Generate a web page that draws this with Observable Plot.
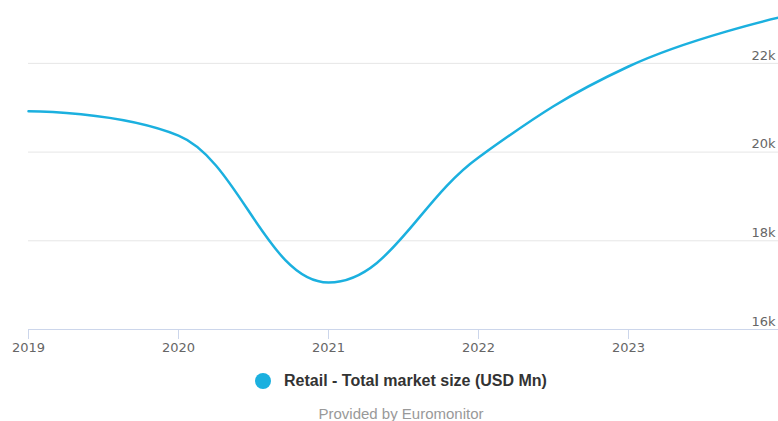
<!DOCTYPE html>
<html>
<head>
<meta charset="utf-8">
<script src="https://cdn.jsdelivr.net/npm/d3@7"></script>
<script src="https://cdn.jsdelivr.net/npm/@observablehq/plot@0.6"></script>
<style>
  html, body { margin: 0; padding: 0; background: #fff; }
  #chart { width: 778px; height: 358px; }
  .legend { height: 46px; padding-left: 24px; display: flex; align-items: center; justify-content: center; font-family: "Liberation Sans", Arial, sans-serif; font-weight: bold; font-size: 16px; color: #333; }
  .legend .dot { width: 16px; height: 16px; border-radius: 50%; background: #1bb0df; margin-right: 13px; }
  .caption { padding-left: 24px; text-align: center; font-family: "Liberation Sans", Arial, sans-serif; font-size: 15px; line-height: 15px; color: #999; margin-top: 2px; }
</style>
</head>
<body>
<div id="chart"></div>
<script>
const years = [2019, 2020, 2021, 2022, 2023, 2024];
const values = [20920, 20370, 17060, 19880, 21930, 23030];
const yTicks = [16000, 18000, 20000, 22000];
const xTicks = [2019, 2020, 2021, 2022, 2023];
const seriesName = "Retail - Total market size (USD Mn)";
const lineColor = "#1bb0df";

const data = years.map((year, i) => ({year, value: values[i]}));

// Highcharts-style spline curve (smoothing 1.5), as a d3 curve factory
function splineCurve(context) {
  let pts = [];
  return {
    areaStart() {}, areaEnd() {},
    lineStart() { pts = []; },
    point(x, y) { pts.push([+x, +y]); },
    lineEnd() {
      const n = pts.length;
      if (!n) return;
      const sm = 1.5, den = sm + 1;
      const rc = new Array(n).fill(null);
      const lc = new Array(n).fill(null);
      for (let i = 1; i < n - 1; i++) {
        const [px, py] = pts[i], [lx, ly] = pts[i - 1], [nx, ny] = pts[i + 1];
        let lcx = (sm * px + lx) / den, lcy = (sm * py + ly) / den;
        let rcx = (sm * px + nx) / den, rcy = (sm * py + ny) / den;
        let corr = 0;
        if (rcx !== lcx) corr = ((rcy - lcy) * (rcx - px)) / (rcx - lcx) + py - rcy;
        lcy += corr; rcy += corr;
        if (lcy > ly && lcy > py) { lcy = Math.max(ly, py); rcy = 2 * py - lcy; }
        else if (lcy < ly && lcy < py) { lcy = Math.min(ly, py); rcy = 2 * py - lcy; }
        if (rcy > ny && rcy > py) { rcy = Math.max(ny, py); lcy = 2 * py - rcy; }
        else if (rcy < ny && rcy < py) { rcy = Math.min(ny, py); lcy = 2 * py - rcy; }
        lc[i] = [lcx, lcy]; rc[i] = [rcx, rcy];
      }
      context.moveTo(pts[0][0], pts[0][1]);
      for (let i = 1; i < n; i++) {
        const a = rc[i - 1] || pts[i - 1];
        const b = lc[i] || pts[i];
        context.bezierCurveTo(a[0], a[1], b[0], b[1], pts[i][0], pts[i][1]);
      }
    }
  };
}

const plot = Plot.plot({
  width: 778,
  height: 358,
  marginLeft: 28,
  marginRight: 0,
  marginTop: 0,
  marginBottom: 29,
  x: {domain: [2019, 2024], axis: null, label: null},
  y: {domain: [16000, 23418], axis: null, label: null},
  style: {fontFamily: "'DejaVu Sans', sans-serif", fontSize: "13px", background: "#fff"},
  marks: [
    Plot.ruleY(yTicks.slice(1), {stroke: "#e6e6e6", strokeWidth: 1}),
    Plot.ruleY([16000], {stroke: "#ccd6eb", strokeWidth: 1}),
    Plot.axisX(xTicks, {anchor: "bottom", label: null, tickSize: 10, tickPadding: 3, stroke: "#ccd6eb", fill: "#666", fontSize: 13, tickFormat: d => String(d)}),
    Plot.text(yTicks, {x: () => 2024, y: d => d, text: d => `${d / 1000}k`, textAnchor: "end", dx: -3, dy: -8, fill: "#666", fontSize: 13}),
    Plot.line(data, {x: "year", y: "value", curve: splineCurve, stroke: lineColor, strokeWidth: 2.5})
  ]
});
document.getElementById("chart").appendChild(plot);

const legend = document.createElement("div");
legend.className = "legend";
legend.innerHTML = `<span class="dot"></span><span></span>`;
legend.lastChild.textContent = seriesName;
document.body.appendChild(legend);

const caption = document.createElement("div");
caption.className = "caption";
caption.textContent = "Provided by Euromonitor";
document.body.appendChild(caption);
</script>
</body>
</html>
